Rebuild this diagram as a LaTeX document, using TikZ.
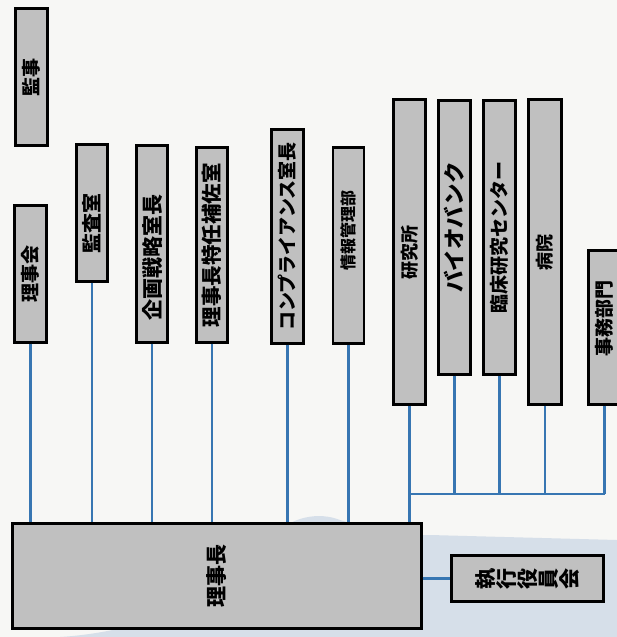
\documentclass[tikz,border=0pt]{standalone}
\usepackage{fontspec}
\usepackage{graphicx}
\newfontfamily\jp{Noto Sans CJK JP}
\definecolor{boxgray}{RGB}{192,192,192}
\definecolor{linkblue}{RGB}{55,118,178}
\definecolor{bgpaper}{RGB}{247,247,245}
\definecolor{swoosh}{RGB}{214,223,233}
% rotated (bottom-to-top) text; optional arg moves the text down along the box
\newcommand{\vtxt}[3][0pt]{\fontsize{#2}{#2}\selectfont\rotatebox{90}{\hspace*{-2\dimexpr#1\relax}#3}}
% one glyph of vertical writing, turned with the page
\newcommand{\rg}[1]{\rotatebox{90}{\raisebox{0pt}[0.88em][0.12em]{#1}}}
\begin{document}
\begin{tikzpicture}[x=1pt,y=-1pt,
  orgbox/.style={draw=black, line width=2.3pt, fill=boxgray, inner sep=0pt, font=\jp\bfseries},
  link/.style={draw=linkblue, line width=2.2pt}]
\path[fill=bgpaper] (0,0) rectangle (617,637);
\useasboundingbox (0,0) rectangle (617,637);
\clip (0,0) rectangle (617,637);
\fill[swoosh] (60,637) .. controls (140,632) and (230,600) .. (270,540)
  .. controls (290,515) and (320,512) .. (340,520)
  .. controls (380,532) and (400,536) .. (430,535) -- (617,540) -- (617,637) -- cycle;

% top row
\node[orgbox, minimum width=32pt, minimum height=137pt] (kanji) at (31.5,77) {\vtxt{19}{監事}};
\node[orgbox, minimum width=32pt, minimum height=137pt] (rijikai) at (30.5,274) {\vtxt{19}{理事会}};
\node[orgbox, minimum width=31pt, minimum height=137pt] (kansa) at (92,213) {\vtxt[10pt]{20}{監査室}};
\node[orgbox, minimum width=31pt, minimum height=197pt] (kikaku) at (152,244) {\vtxt[13pt]{21}{企画戦略室長}};
\node[orgbox, minimum width=31pt, minimum height=195pt] (tokunin) at (212,245) {\vtxt{20.5}{理事長特任補佐室}};
\node[orgbox, minimum width=32pt, minimum height=214pt] (comp) at (287.5,236.5) {\vtxt{19}{コンプライアンス室長}};
\node[orgbox, minimum width=31pt, minimum height=196pt] (joho) at (348.5,245.5) {\vtxt[-15pt]{16}{情報管理部}};
\node[orgbox, minimum width=32pt, minimum height=305pt] (kenkyu) at (409.5,252) {\vtxt{18}{研究所}};
\node[orgbox, minimum width=32pt, minimum height=274pt] (bio) at (454.5,237.5) {\vtxt[-10pt]{21.5}{バイオバンク}};
\node[orgbox, minimum width=32pt, minimum height=274pt] (rinsho) at (499.5,237.5) {\vtxt{19}{臨床研究センター}};
\node[orgbox, minimum width=33pt, minimum height=305pt] (byoin) at (545,252) {\vtxt{18}{病院}};
\node[orgbox, minimum width=32pt, minimum height=154pt] (jimu) at (604.5,327.5) {\vtxt[-9pt]{19}{事務部門}};

% bottom row
\node[orgbox, minimum width=409pt, minimum height=105pt] (richo) at (217,576) {\vtxt{21}{理事長}};
\node[orgbox, minimum width=152pt, minimum height=46pt] (shikko) at (527.5,578.5)
  {\fontsize{21}{21}\selectfont\rg{執}\rg{行}\rg{役}\rg{員}\rg{会}};

\coordinate (bus) at (0,494);

% links to the president
\foreach \n in {rijikai,kansa,kikaku,tokunin,comp,joho,kenkyu}
  \draw[link] (\n.south) -- (\n.south |- richo.north);
% bus for the centres
\foreach \n in {bio,rinsho,byoin,jimu}
  \draw[link] (\n.south) -- (\n.south |- bus);
\draw[link] (kenkyu.south |- bus) -- (jimu.south |- bus);
\draw[link] (richo.east |- shikko.west) -- (shikko.west);
\end{tikzpicture}
\end{document}
